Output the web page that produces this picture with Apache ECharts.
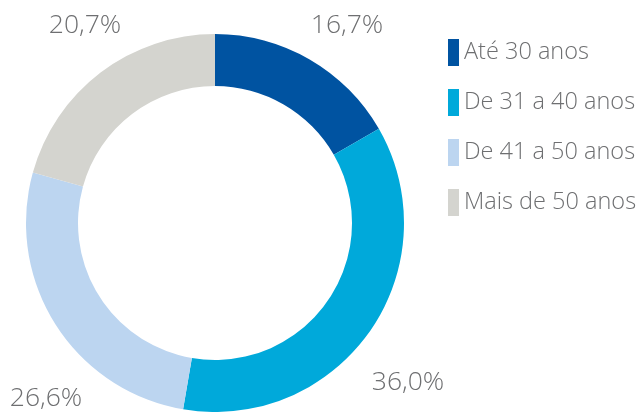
<!DOCTYPE html>
<html>
<head>
<meta charset="utf-8">
<script src="https://cdn.jsdelivr.net/npm/echarts@6/dist/echarts.min.js"></script>
<style>
  html, body { margin: 0; padding: 0; background: #fff; }
  #chart { width: 642px; height: 412px; }
</style>
</head>
<body>
<div id="chart"></div>
<script>
// faixa etária: categorias, valores (%) e cores
const categories = ['Até 30 anos', 'De 31 a 40 anos', 'De 41 a 50 anos', 'Mais de 50 anos']
const values = [16.7, 36.0, 26.6, 20.7]
const colors = ['#0053a1', '#00a9da', '#bcd5f0', '#d4d4cf']

// posição dos rótulos percentuais (centro do texto, px)
const labelPos = [[347, 25], [408, 382], [46, 398], [85, 25]]

const FONT = '"Open Sans", "Noto Sans", sans-serif'
const TEXT = '#6e6f71'

const chart = echarts.init(document.getElementById('chart'), null, { renderer: 'canvas' })

chart.setOption({
  animation: false,
  color: colors,
  legend: {
    orient: 'vertical',
    left: 443,
    top: 34,
    padding: 5,
    itemWidth: 11,
    itemHeight: 27,
    itemGap: 23,
    icon: 'rect',
    selectedMode: false,
    textStyle: { fontFamily: FONT, fontSize: 23.5, fontWeight: 300, color: TEXT },
    data: categories,
  },
  series: [{
    type: 'pie',
    center: [215, 223],
    radius: [137, 189],
    startAngle: 90,
    clockwise: true,
    avoidLabelOverlap: false,
    emphasis: { disabled: true },
    label: {
      show: true,
      position: 'outside',
      formatter: (p) => p.value.toFixed(1).replace('.', ',') + '%',
      fontFamily: FONT,
      fontSize: 26.5,
      fontWeight: 300,
      color: TEXT,
    },
    labelLine: { show: false },
    labelLayout: (p) => ({
      x: labelPos[p.dataIndex][0],
      y: labelPos[p.dataIndex][1],
      align: 'center',
      verticalAlign: 'middle',
    }),
    data: categories.map((c, i) => ({ name: c, value: values[i] })),
  }],
})
</script>
</body>
</html>
